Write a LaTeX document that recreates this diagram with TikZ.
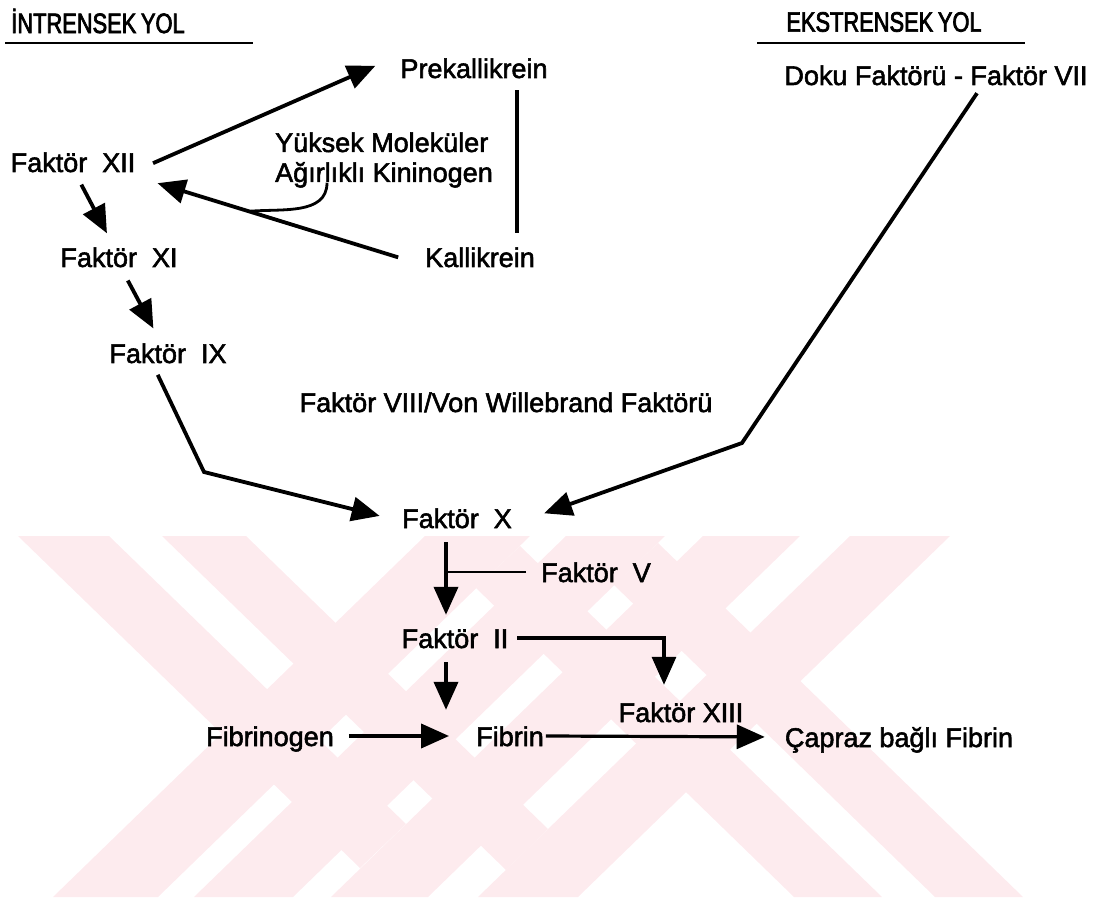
\documentclass[tikz,border=0pt]{standalone}
\usepackage{fontspec}
\setsansfont[FakeBold=2]{Liberation Sans}
\newfontfamily\headfont[FakeStretch=0.78, FakeBold=2.5]{Liberation Sans}
\usetikzlibrary{arrows.meta}
\definecolor{WmPink}{HTML}{FDEBEE}
\tikzset{every picture/.style={/utils/exec={\sffamily}}}

\begin{document}
\begin{tikzpicture} [x=1pt, y=-1pt,
			every node/.style={inner sep=2pt, font=\fontsize{27}{30}\selectfont, align=center},
			factor/.style={text height=20pt, text depth=6pt},
			legend/.style={font=\headfont\fontsize{28}{30}\selectfont},
			arr/.style={line width=3.8pt},
			link/.style={line width=3.2pt},
			thin link/.style={line width=2.4pt},
			hook/.style={line width=2.8pt},
			watermark/.style={fill=WmPink, draw=none},
			>={Triangle[length=28pt, width=24pt]}
		]
			\useasboundingbox (0,0) rectangle (1096,901);
			\fill[watermark] (425,536) -- (530,536) -- (158,897) -- (53,897) -- cycle;
			\fill[watermark] (566,536) -- (665,536) -- (293,897) -- (194,897) -- cycle;
			\fill[watermark] (703,536) -- (800,536) -- (428,897) -- (331,897) -- cycle;
			\fill[watermark] (850,536) -- (950,536) -- (578,897) -- (478,897) -- cycle;
			\fill[watermark] (18,536) -- (109,536) -- (406,824) -- (360,868) -- cycle;
			\fill[watermark] (162,536) -- (246,536) -- (548,829) -- (506,870) -- cycle;
			\fill[watermark] (794,897) -- (882,897) -- (520,546) -- (476,588) -- cycle;
			\fill[watermark] (935,897) -- (1023,897) -- (658,543) -- (614,585) -- cycle;

			\node at (98,21) [legend] (legIntr) {İNTRENSEK\,YOL};
			\node at (884,22) [legend] (legEkstr) {EKSTRENSEK\,YOL};
			\draw[line width=2.2pt] (5,43) -- (253,43);
			\draw[line width=2.2pt] (757,43) -- (1025,43);

			\node at (936,78) [factor] (nodeDoku) {Doku Faktörü - Faktör VII};
			\node at (474,71) [factor] (nodePrek) {Prekallikrein};
			\node at (384,160) [align=left] (nodeYmak) {Yüksek Moleküler\\Ağırlıklı Kininogen};
			\node at (73,165) [factor] (nodeXII) {Faktör~~XII};
			\node at (119,260) [factor] (nodeXI) {Faktör~~XI};
			\node at (480,260) [factor] (nodeKall) {Kallikrein};
			\node at (168,356) [factor] (nodeIX) {Faktör~~IX};
			\node at (506,405) [factor] (nodeVIII) {Faktör VIII/Von Willebrand Faktörü};
			\node at (457,521) [factor] (nodeX) {Faktör~~X};
			\node at (596,575) [factor] (nodeV) {Faktör~~V};
			\node at (455,641) [factor] (nodeII) {Faktör~~II};
			\node at (681,715) [factor] (nodeXIII) {Faktör XIII};
			\node at (270,739) [factor] (nodeFibrinogen) {Fibrinogen};
			\node at (510,739) [factor] (nodeFibrin) {Fibrin};
			\node at (899,740) [factor] (nodeCapraz) {Çapraz bağlı Fibrin};

			\coordinate (axisP) at ([xshift=43pt]nodePrek.south);
			\coordinate (bendIX) at (204,472);
			\coordinate (bendDoku) at (742,443);
			\coordinate (axisX) at ([xshift=-11pt]nodeX.south);

			\path[->, arr] ([yshift=-5pt]nodeXII.east) edge[shorten <=17pt, shorten >=25pt] (nodePrek.north west);
			\draw[arr, shorten <=4pt, shorten >=12pt] (axisP) -- (axisP |- nodeKall.north);
			\draw[->, arr, shorten <=26pt, shorten >=21pt] ([yshift=-5pt]nodeKall.west) -- coordinate[pos=0.61] (hookEnd) ([yshift=-12pt]nodeXII.east);
			\draw[hook] ([xshift=54pt, yshift=7pt]nodeYmak.south west) to[out=-90, in=5] (hookEnd);
			\path[->, arr] ([xshift=6pt]nodeXII.south) edge[shorten <=5pt, shorten >=13pt] ([xshift=-6pt]nodeXI.north);
			\path[->, arr] ([xshift=6pt]nodeXI.south) edge[shorten <=6pt, shorten >=14pt] ([xshift=-8pt]nodeIX.north);
			\draw[->, arr, shorten <=4pt, shorten >=21pt] ([xshift=-12pt]nodeIX.south) -- (bendIX) -- (nodeX.west);
			\draw[->, arr, shorten >=32pt] ([xshift=41pt]nodeDoku.south) -- (bendDoku) -- ([yshift=-3pt]nodeX.east);
			\draw[->, arr, shorten <=6pt, shorten >=11pt] (axisX) -- (axisX |- nodeII.north);
			\draw[thin link, shorten <=13pt] ([yshift=3pt]nodeV.west) -- ([yshift=3pt]nodeV.west -| axisX);
			\draw[->, arr, shorten <=6pt, shorten >=14pt] (axisX |- nodeII.south) -- (axisX |- nodeFibrin.north);
			\draw[->, link, shorten <=7pt, shorten >=15pt] ([yshift=3pt]nodeII.east) -| ([xshift=-17pt]nodeXIII.north);
			\path[->, arr] ([yshift=3pt]nodeFibrinogen.east) edge[shorten <=13pt, shorten >=25pt] ([yshift=3pt]nodeFibrin.west);
			\path[->, link] ([yshift=3pt]nodeFibrin.east) edge[shorten >=18pt] ([yshift=3pt]nodeCapraz.west);
		\end{tikzpicture}
\end{document}
